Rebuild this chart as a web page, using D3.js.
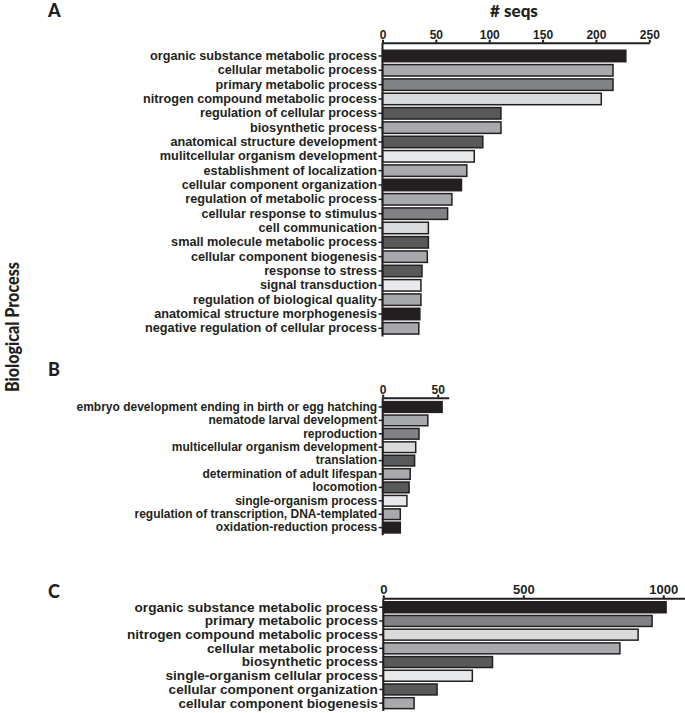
<!DOCTYPE html>
<html>
<head>
<meta charset="utf-8">
<script src="https://cdn.jsdelivr.net/npm/d3@7"></script>
<style>
body{margin:0;background:#fff;}
svg text{fill:#231f20;}
</style>
</head>
<body>
<svg id="chart" width="685" height="713"></svg>
<script>
// Panel A
const catsA = ["organic substance metabolic process","cellular metabolic process","primary metabolic process","nitrogen compound metabolic process","regulation of cellular process","biosynthetic process","anatomical structure development","mulitcellular organism development","establishment of localization","cellular component organization","regulation of metabolic process","cellular response to stimulus","cell communication","small molecule metabolic process","cellular component biogenesis","response to stress","signal transduction","regulation of biological quality","anatomical structure morphogenesis","negative regulation of cellular process"];
const valsA = [228,216,216,205,111,111,94,86,79,74,65,61,43,43,42,37,36,36,35,34];
const colsA = ["#231f20","#a7a9ac","#808285","#d9dadb","#58595b","#a7a9ac","#58595b","#e8e9ea","#a7a9ac","#231f20","#a7a9ac","#808285","#d9dadb","#58595b","#a7a9ac","#58595b","#e8e9ea","#a7a9ac","#231f20","#a7a9ac"];
const ticksA = [0,50,100,150,200,250];
// Panel B
const catsB = ["embryo development ending in birth or egg hatching","nematode larval development","reproduction","multicellular organism development","translation","determination of adult lifespan","locomotion","single-organism process","regulation of transcription, DNA-templated","oxidation-reduction process"];
const valsB = [54,41,33,30,29,25,24,22,16,16];
const colsB = ["#231f20","#a7a9ac","#808285","#d9dadb","#58595b","#a7a9ac","#58595b","#e8e9ea","#a7a9ac","#231f20"];
const ticksB = [0,50];
// Panel C
const catsC = ["organic substance metabolic process","primary metabolic process","nitrogen compound metabolic process","cellular metabolic process","biosynthetic process","single-organism cellular process","cellular component organization","cellular component biogenesis"];
const valsC = [1010,960,910,845,390,318,192,110];
const colsC = ["#231f20","#808285","#d9dadb","#a7a9ac","#58595b","#e8e9ea","#58595b","#a7a9ac"];
const ticksC = [0,500,1000];

const svg = d3.select("#chart");

function panel(cfg){
  const x = d3.scaleLinear().domain(cfg.xd).range(cfg.xr);
  const y = d3.scaleBand().domain(cfg.cats).range(cfg.yr).paddingInner(0.2).paddingOuter(0.1);
  const g = svg.append("g");
  g.selectAll("rect.bar").data(cfg.vals).enter().append("rect")
    .attr("class","bar")
    .attr("x", x(0))
    .attr("y", (d,i)=>y(cfg.cats[i]))
    .attr("width", d=>x(d)-x(0))
    .attr("height", y.bandwidth())
    .attr("fill", (d,i)=>cfg.cols[i])
    .attr("stroke","#231f20").attr("stroke-width",1.5);
  // x axis on top
  const xa = g.append("g").attr("transform",`translate(0,${cfg.axisY})`)
    .call(d3.axisTop(x).tickValues(cfg.ticks).tickSize(3).tickSizeOuter(0).tickPadding(1).tickFormat(d3.format("d")));
  xa.select(".domain").attr("stroke","#231f20").attr("stroke-width",2);
  xa.selectAll(".tick line").attr("stroke","#231f20").attr("stroke-width",2);
  xa.selectAll(".tick text").attr("font-family","Liberation Sans, Arial, sans-serif")
    .attr("font-weight","bold").attr("font-size",cfg.tickFs).attr("fill","#231f20");
  // y axis
  const ya = g.append("g").attr("transform",`translate(${x(0)},0)`)
    .call(d3.axisLeft(y).tickSize(4).tickSizeOuter(0).tickPadding(1.5));
  ya.select(".domain").attr("d", `M0,${cfg.axisY}V${cfg.yr[1]+1}`).attr("stroke","#231f20").attr("stroke-width",2);
  ya.selectAll(".tick line").attr("stroke","#231f20").attr("stroke-width",1.5);
  ya.selectAll(".tick text").attr("font-family","Liberation Sans, Arial, sans-serif")
    .attr("font-weight","bold").attr("font-size",cfg.labFs).attr("fill","#231f20");
}

panel({cats:catsA, vals:valsA, cols:colsA, ticks:ticksA, xd:[0,250], xr:[382.5,649.3], yr:[48.8,335.5], axisY:42.7, tickFs:12, labFs:12.7});
panel({cats:catsB, vals:valsB, cols:colsB, ticks:ticksB, xd:[0,60], xr:[382.7,448.7], yr:[400.3,534.3], axisY:397.7, tickFs:12, labFs:12});
panel({cats:catsC, vals:valsC, cols:colsC, ticks:ticksC, xd:[0,1080], xr:[383.3,685.7], yr:[600.4,710], axisY:598.3, tickFs:13, labFs:13.6});

const tf = "Lato, 'Open Sans', sans-serif";
svg.append("text").attr("x",514).attr("y",17).attr("text-anchor","middle")
  .attr("font-family",tf).attr("font-weight","900").attr("font-size",17).text("# seqs");
svg.append("text").attr("x",48).attr("y",17).attr("font-family",tf).attr("font-weight","900").attr("font-size",18).text("A");
svg.append("text").attr("x",48).attr("y",376).attr("font-family",tf).attr("font-weight","900").attr("font-size",18).text("B");
svg.append("text").attr("x",48).attr("y",598).attr("font-family",tf).attr("font-weight","900").attr("font-size",18).text("C");
svg.append("text").attr("transform","translate(19,327) rotate(-90)").attr("text-anchor","middle")
  .attr("font-family",tf).attr("font-weight","900").attr("font-size",19)
  .attr("textLength",130).attr("lengthAdjust","spacingAndGlyphs").text("Biological Process");
</script>
</body>
</html>
